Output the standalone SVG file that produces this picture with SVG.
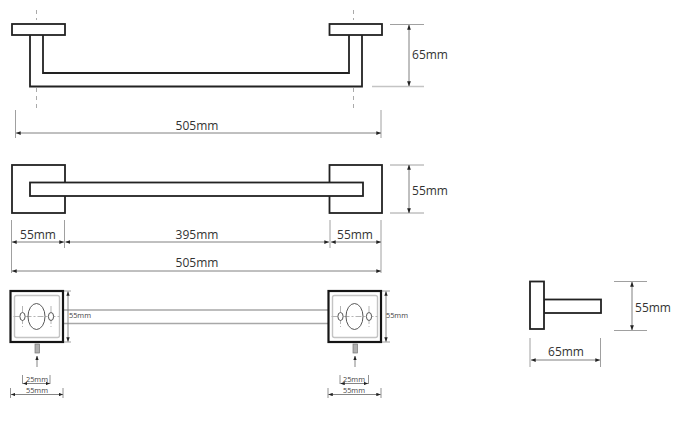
<svg xmlns="http://www.w3.org/2000/svg" width="678" height="444" viewBox="0 0 678 444">
<style>
.o{fill:#fff;stroke:#222;stroke-width:1.8}
.ol{fill:none;stroke:#222;stroke-width:1.8}
.ot{fill:#fff;stroke:#151515;stroke-width:2.2}
.c{fill:none;stroke:#aaa;stroke-width:1;stroke-dasharray:4 4}
.e{stroke:#a0a0a0;stroke-width:1;fill:none}
.d{stroke:#808080;stroke-width:1;fill:none;marker-start:url(#a);marker-end:url(#a)}
.s{stroke:#777;stroke-width:.9;fill:none;marker-start:url(#b);marker-end:url(#b)}
.r{stroke:#a8a8a8;stroke-width:1.3;fill:none}
.h{fill:#fff;stroke:#c4c4c4;stroke-width:1.4}
.t{stroke:#777;stroke-width:.8;fill:none}
.x{stroke:#b5b5b5;stroke-width:1;stroke-dasharray:6 2 2 2;fill:none}
.sc{fill:#b0b0b0;stroke:#777;stroke-width:.7}
text{font-family:"Open Sans","DejaVu Sans",sans-serif;fill:#333;text-anchor:middle}
.l{font-size:12px}
.m{font-size:7.400px;fill:#444}
</style>
<defs>
<marker id="a" viewBox="0 0 8 6" refX="7.500" refY="3" markerWidth="5" markerHeight="4" orient="auto-start-reverse" markerUnits="userSpaceOnUse"><path d="M0 0L8 3L0 6Z" fill="#222"/></marker>
<marker id="b" viewBox="0 0 8 6" refX="7.500" refY="3" markerWidth="4.500" markerHeight="3.500" orient="auto-start-reverse" markerUnits="userSpaceOnUse"><path d="M0 0L8 3L0 6Z" fill="#222"/></marker>
<g id="mount">
<rect class="ot" x="0" y="0" width="52.500" height="51"/>
<rect class="h" x="4" y="4.500" width="45" height="42" rx="2"/>
<path class="x" d="M3 25.500H50M12 15V36M40.500 15V36"/>
<ellipse cx="26" cy="25.500" rx="8.500" ry="13" fill="none" stroke="#444" stroke-width=".9"/>
<ellipse cx="12" cy="25.500" rx="2.600" ry="4" fill="#fff" stroke="#444" stroke-width=".9"/>
<ellipse cx="40.500" cy="25.500" rx="2.600" ry="4" fill="#fff" stroke="#444" stroke-width=".9"/>
</g>
</defs>
<g id="connectors">
<path class="c" d="M36.500 10V20M36.500 88V112M353.500 10V20M353.500 88V112"/>
<path class="e" d="M15.500 110V138M381 110V138M390 24.500H424"/>
<path d="M372 86.500H424" stroke="#c4c4c4" stroke-width="1.400" fill="none"/>
<path class="d" d="M16 133H381"/>
<path class="d" d="M409 25V86"/>
<path class="e" d="M390 165H424M390 213H424M11.500 220V273M64.500 220V248M330 220V248M381 220V273"/>
<path class="d" d="M409 165V213"/>
<path class="d" d="M12 242H64"/>
<path class="d" d="M65.500 242H329"/>
<path class="d" d="M331 242H381"/>
<path class="d" d="M12 271H381"/>
<path class="r" d="M63 310H328M63 323.500H328"/>
<path class="e" d="M63 291H71M63 342H71M381 291H390M381 342H390"/>
<path class="s" d="M68 291.500V341.500"/>
<path class="s" d="M386 291.500V341.500"/>
<path class="s" d="M37 367V356" style="marker-start:none"/>
<path class="s" d="M355 367V356" style="marker-start:none"/>
<path class="t" d="M22.500 375V384M50 375V384M340 375V384M368.500 375V384M10.500 388V398M63 388V398M328 388V398M381 388V398"/>
<path class="s" d="M23 383.500H50"/>
<path class="s" d="M340.500 383.500H368"/>
<path class="s" d="M11 394.500H63"/>
<path class="s" d="M328.500 394.500H380.500"/>
<path class="e" d="M614 281.500H647M614 330.500H647M530 338V367M600.500 338V367"/>
<path class="d" d="M632 282V330"/>
<path class="d" d="M531 360H600"/>
</g>
<g id="front-view">
<path class="ol" d="M30 35V86.500H362V35M43 35V73H349V35"/>
<rect class="o" x="12" y="24" width="53" height="11"/>
<rect class="o" x="329.500" y="24" width="52.500" height="11"/>
</g>
<g id="top-view">
<rect class="o" x="12" y="165" width="53" height="48"/>
<rect class="o" x="329.500" y="165" width="52.500" height="48"/>
<rect class="o" x="30" y="182.500" width="333" height="13.500"/>
</g>
<g id="mount-left"><use href="#mount" x="10.500" y="291"/></g>
<g id="mount-right"><use href="#mount" x="328.500" y="291"/></g>
<g id="screw-left"><rect class="sc" x="35" y="344" width="4.500" height="9"/></g>
<g id="screw-right"><rect class="sc" x="353" y="344" width="4.500" height="9"/></g>
<g id="side-view">
<rect class="o" x="544" y="299.500" width="57" height="13.500"/>
<rect class="o" x="530" y="281.500" width="14" height="47.500"/>
</g>
<g id="labels">
<text class="l" x="197" y="130">505mm</text>
<text class="l" x="430" y="59">65mm</text>
<text class="l" x="430" y="195">55mm</text>
<text class="l" x="38" y="239">55mm</text>
<text class="l" x="197" y="239">395mm</text>
<text class="l" x="355" y="239">55mm</text>
<text class="l" x="197" y="267">505mm</text>
<text class="m" x="80" y="318">55mm</text>
<text class="m" x="397" y="318">55mm</text>
<text class="m" x="37" y="382">25mm</text>
<text class="m" x="354" y="382">25mm</text>
<text class="m" x="37" y="393">55mm</text>
<text class="m" x="354" y="393">55mm</text>
<text class="l" x="653" y="312">55mm</text>
<text class="l" x="566" y="356">65mm</text>
</g>
</svg>
